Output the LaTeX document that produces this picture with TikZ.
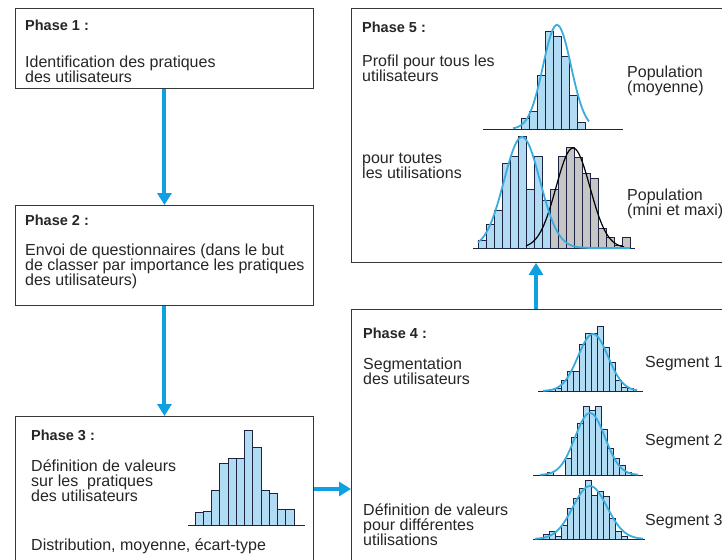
\documentclass[tikz,border=0pt]{standalone}
\usepackage{fontspec}
\setmainfont{Liberation Sans}
\usepackage{tikz}
\usetikzlibrary{arrows.meta, positioning, calc}
\definecolor{boxgray}{RGB}{55,55,55}
\definecolor{flowblue}{RGB}{14,160,224}
\definecolor{barblue}{RGB}{176,219,243}
\definecolor{barnavy}{RGB}{28,36,66}
\definecolor{fitblue}{RGB}{58,172,222}
\definecolor{bargray}{RGB}{198,198,198}
\tikzset{
  phase/.style={rectangle, draw=boxgray, line width=0.9pt,
    anchor=north west, inner sep=0pt},
  ttl/.style={anchor=base west, inner sep=0pt, text=black!85,
    font=\fontsize{14.5}{15}\selectfont\bfseries},
  txt/.style={anchor=base west, inner sep=0pt, align=left, text=black!85,
    font={\fontsize{16}{15}\selectfont\lineskiplimit -8pt\relax}},
  arr/.style={-{Triangle[width=14pt,length=12pt]}, line width=4pt, draw=flowblue},
  barB/.style={draw=barnavy, fill=barblue, line width=0.8pt},
  barG/.style={barB, fill=bargray},
  baseln/.style={draw=barnavy, line width=0.9pt},
  fitB/.style={draw=fitblue, line width=1.8pt, line join=round},
  fitK/.style={draw=black, line width=1.2pt, line join=round},
}

\begin{document}
\begin{tikzpicture}[x=1pt, y=-1pt]
  \useasboundingbox (0,0) rectangle (722,559);
  \clip (0,0) rectangle (722,559);
  \fill[white] (0,0) rectangle (722,559);

  \node[phase, minimum width=298pt, minimum height=80pt]  (p1) at (15,8) {};
  \node[phase, minimum width=298pt, minimum height=100pt] (p2) at (15,205) {};
  \node[phase, minimum width=298pt, minimum height=160pt] (p3) at (15,416) {};
  \node[phase, minimum width=400pt, minimum height=270pt] (p4) at (351,309) {};
  \node[phase, minimum width=400pt, minimum height=254pt] (p5) at (351,8) {};

  \coordinate (up) at (536,0);
  \coordinate (across) at (0,489);
  \draw[arr] (p1) -- (p2);
  \draw[arr] (p2) -- (p3);
  \draw[arr] (across -| p3.east) -- (across -| p4.west);
  \draw[arr] (up |- p4.north) -- (up |- p5.south);

  \node[ttl] (t1) at (25,31) {Phase 1 :};
  \node[txt] (d1) at (25,82.5) {Identification des pratiques\\des utilisateurs};
  \node[ttl] (t2) at (25,225) {Phase 2 :};
  \node[txt] (d2) at (25,285.5)
       {Envoi de questionnaires (dans le but\\de classer par importance les pratiques\\des utilisateurs)};
  \node[ttl] (t3) at (31,440) {Phase 3 :};
  \node[txt] (d3) at (31,501.5) {Définition de valeurs\\sur les~ pratiques\\des utilisateurs};
  \node[txt] (s3) at (31,550.5) {Distribution, moyenne, écart-type};
  \node[ttl] (t4) at (363,338) {Phase 4 :};
  \node[txt] (d4) at (363,384.5) {Segmentation\\des utilisateurs};
  \node[txt] (e4) at (363,545.5) {Définition de valeurs\\pour différentes\\utilisations};
  \node[txt] (g1) at (645,367.5) {Segment 1};
  \node[txt] (g2) at (645,445.5) {Segment 2};
  \node[txt] (g3) at (645,525.5) {Segment 3};
  \node[ttl] (t5) at (362,33) {Phase 5 :};
  \node[txt] (d5) at (362,81.5) {Profil pour tous les\\utilisateurs};
  \node[txt] (m5) at (627,92.5) {Population\\(moyenne)};
  \node[txt] (e5) at (362,178.5) {pour toutes\\les utilisations};
  \node[txt] (x5) at (627,215.5) {Population\\(mini et maxi)};

  \begin{scope}[shift={(195,525)}]
    \foreach \h [count=\i from 0] in {13,14,35,62,67,67,95,78,35,32,16,16}
      \draw[barB] (\i*8.25,0) rectangle ++(8.25,-\h);
    \draw[baseln] (-7,0) -- (110,0);
  \end{scope}

  \begin{scope}[shift={(521,129)}]
    \foreach \h [count=\i from 0] in {11,18,54,98,93,73,34,7}
      \draw[barB] (\i*8,0) rectangle ++(8,-\h);
    \draw[baseln] (-38,0) -- (102,0);
    \draw[fitB] plot[domain=-8:68, samples=60] (\x, {-104*exp(-((\x-36)^2)/392)});
  \end{scope}

  \begin{scope}[shift={(478,248)}]
    \foreach \h [count=\i from 0] in {8,24,38,85,92,112,59,92,48}
      \draw[barB] (\i*8,0) rectangle ++(8,-\h);
    \foreach \h [count=\i from 9] in {59,92,101,91,75,70,20,11,3,11}
      \draw[barG] (\i*8,0) rectangle ++(8,-\h);
    \draw[baseln] (-5,0) -- (157,0);
    \draw[fitK] plot[domain=48:146, samples=60] (\x, {-100*exp(-((\x-95)^2)/578)});
    \draw[fitB] plot[domain=0:152, samples=80] (\x, {-111*exp(-((\x-44)^2)/648)});
  \end{scope}

  \begin{scope}[shift={(549,391)}]
    \foreach \h [count=\i from 0] in {2,3,11,20,20,47,58,58,65,44,29,11,4,3}
      \draw[barB] (\i*6,0) rectangle ++(6,-\h);
    \draw[baseln] (-11,0) -- (94,0);
    \draw[fitB] plot[domain=-6:88, samples=60] (\x, {-57*exp(-((\x-44)^2)/450)});
  \end{scope}

  \begin{scope}[shift={(547,475)}]
    \foreach \h [count=\i from 0] in {3,0,0,17,38,52,69,65,69,46,27,17,10,3}
      \draw[barB] (\i*6,0) rectangle ++(6,-\h);
    \draw[baseln] (-14,0) -- (96,0);
    \draw[fitB] plot[domain=-7:91, samples=60] (\x, {-62*exp(-((\x-43)^2)/450)});
  \end{scope}

  \begin{scope}[shift={(543,539)}]
    \foreach \h [count=\i from 0] in {5,8,3,14,31,41,51,59,44,48,43,21,8,3}
      \draw[barB] (\i*6,0) rectangle ++(6,-\h);
    \draw[baseln] (-10,0) -- (102,0);
    \draw[fitB] plot[domain=-8:100, samples=60] (\x, {-53*exp(-((\x-47)^2)/578)});
  \end{scope}
\end{tikzpicture}
\end{document}
